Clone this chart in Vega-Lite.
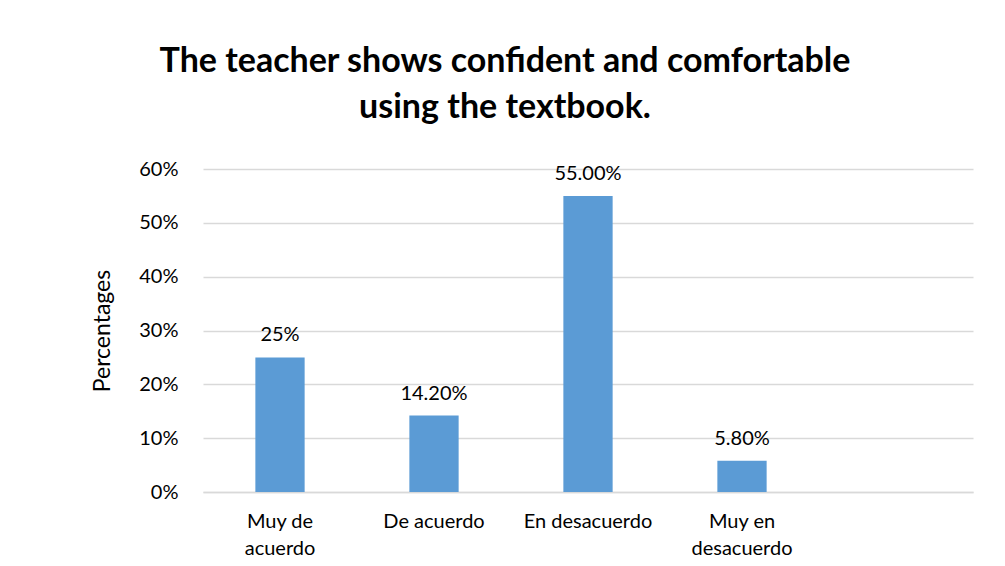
{
  "$schema": "https://vega.github.io/schema/vega-lite/v6.json",
  "width": 770,
  "height": 323,
  "autosize": {"type": "none"},
  "padding": {"left": 203, "top": 169, "right": 32, "bottom": 74},
  "background": "white",
  "title": {
    "text": ["The teacher shows confident and comfortable", "using the textbook."],
    "font": "Lato",
    "fontSize": 34,
    "fontWeight": "bold",
    "color": "#000000",
    "anchor": "middle",
    "frame": "group",
    "dx": -83,
    "offset": 34,
    "lineHeight": 46
  },
  "data": {
    "values": [
      {"category": "Muy de acuerdo", "value": 0.25, "label": "25%"},
      {"category": "De acuerdo", "value": 0.142, "label": "14.20%"},
      {"category": "En desacuerdo", "value": 0.55, "label": "55.00%"},
      {"category": "Muy en desacuerdo", "value": 0.058, "label": "5.80%"}
    ]
  },
  "encoding": {
    "x": {
      "field": "category",
      "type": "nominal",
      "sort": null,
      "scale": {
        "domain": ["Muy de acuerdo", "De acuerdo", "En desacuerdo", "Muy en desacuerdo", ""],
        "paddingInner": 0.68,
        "paddingOuter": 0.34
      },
      "axis": {
        "title": null,
        "labelAngle": 0,
        "labelFont": "Lato",
        "labelFontSize": 20,
        "labelColor": "#000000",
        "labelPadding": 19,
        "labelLineHeight": 27,
        "labelExpr": "datum.label == 'Muy de acuerdo' ? ['Muy de', 'acuerdo'] : datum.label == 'Muy en desacuerdo' ? ['Muy en', 'desacuerdo'] : datum.label",
        "ticks": false,
        "domain": true,
        "domainColor": "#D9D9D9",
        "domainWidth": 1.5,
        "grid": false
      }
    },
    "y": {
      "field": "value",
      "type": "quantitative",
      "scale": {"domain": [0, 0.6]},
      "axis": {
        "title": "Percentages",
        "titleFont": "Lato",
        "titleFontSize": 23,
        "titleFontWeight": "normal",
        "titleColor": "#000000",
        "titlePadding": 24,
        "format": ".0%",
        "values": [0, 0.1, 0.2, 0.3, 0.4, 0.5, 0.6],
        "labelFont": "Lato",
        "labelFontSize": 20,
        "labelColor": "#000000",
        "labelPadding": 25,
        "ticks": false,
        "domain": false,
        "grid": true,
        "gridColor": "#D9D9D9",
        "gridWidth": 1.5
      }
    }
  },
  "layer": [
    {"mark": {"type": "bar", "color": "#5B9BD5"}},
    {
      "mark": {"type": "text", "font": "Lato", "fontSize": 20, "color": "#000000", "baseline": "bottom", "dy": -12},
      "encoding": {"text": {"field": "label"}}
    }
  ],
  "config": {"view": {"stroke": null}}
}
